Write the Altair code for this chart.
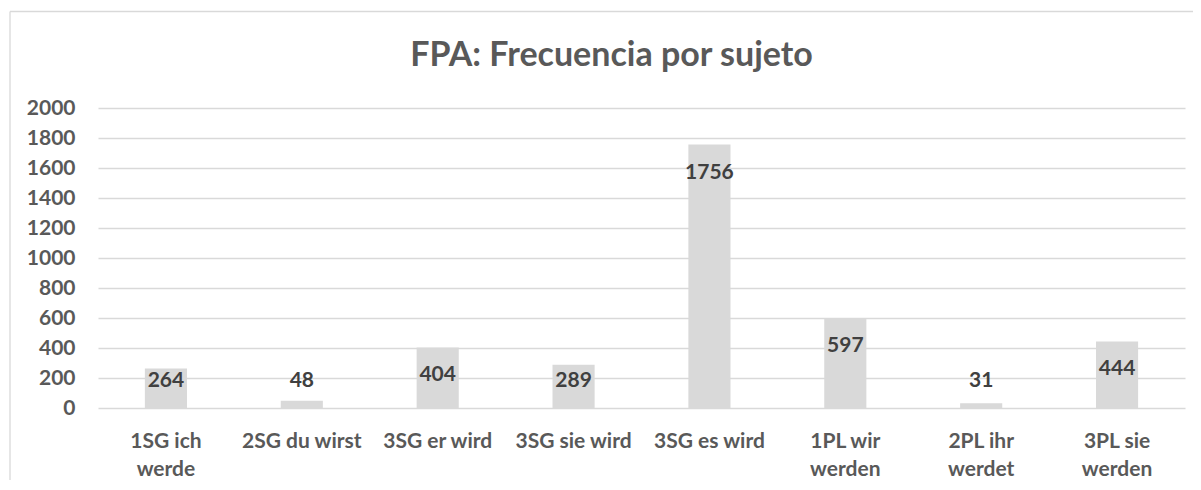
import altair as alt
import pandas as pd

categories = ["1SG ich werde", "2SG du wirst", "3SG er wird", "3SG sie wird",
              "3SG es wird", "1PL wir werden", "2PL ihr werdet", "3PL sie werden"]
values = [264, 48, 404, 289, 1756, 597, 31, 444]
y_ticks = [0, 200, 400, 600, 800, 1000, 1200, 1400, 1600, 1800, 2000]
title_text = "FPA: Frecuencia por sujeto"

df = pd.DataFrame({"category": categories, "value": values})

FONT = "Lato"
GRAY = "#595959"
LIGHT = "#d9d9d9"

x_axis = alt.Axis(
    labelAngle=0, labelFont=FONT, labelFontSize=21, labelFontWeight="bold",
    labelColor=GRAY, labelPadding=22, labelLineHeight=28, labelBaseline="top",
    domain=False, ticks=False, grid=False, labelOverlap=False,
    labelExpr="length(datum.label) > 12 ? [substring(datum.label, 0, lastindexof(datum.label, ' ')), substring(datum.label, lastindexof(datum.label, ' ') + 1)] : datum.label",
)
y_axis = alt.Axis(values=y_ticks, format="d", labelOverlap=False,
                  labelFont=FONT, labelFontSize=21,
                  labelFontWeight="bold", labelColor=GRAY, labelPadding=23,
                  domain=False, ticks=False, grid=True, gridColor=LIGHT,
                  gridWidth=1.3)

x_scale = alt.Scale(paddingInner=0.69, paddingOuter=0.345)
y_scale = alt.Scale(domain=[0, 2000], nice=False)

bars = alt.Chart(df).mark_bar(color=LIGHT).encode(
    x=alt.X("category:N", sort=categories, title=None, scale=x_scale, axis=x_axis),
    y=alt.Y("value:Q", scale=y_scale, title=None, axis=y_axis),
)

labels = alt.Chart(df).transform_calculate(
    label_y="max(datum.value, 370)"
).mark_text(font=FONT, fontSize=21, fontWeight="bold", color="#404040",
            baseline="middle", dy=28).encode(
    x=alt.X("category:N", sort=categories, title=None, scale=x_scale, axis=x_axis),
    y=alt.Y("label_y:Q", scale=y_scale, title=None, axis=y_axis),
    text=alt.Text("value:Q"),
)

single = alt.Data(values=[{"t": title_text}])
left_border = alt.Chart(single).mark_rule(color=LIGHT, strokeWidth=1.3).encode(
    x=alt.value(-88), y=alt.value(-96.5), y2=alt.value(500))
top_border = alt.Chart(single).mark_rule(color=LIGHT, strokeWidth=1.3).encode(
    x=alt.value(-88), x2=alt.value(1200), y=alt.value(-96.5))
title = alt.Chart(single).mark_text(
    font=FONT, fontSize=34, fontWeight="bold", color=GRAY,
    align="center", baseline="alphabetic").encode(
    x=alt.value(513.5), y=alt.value(-42), text="t:N")

chart = alt.layer(left_border, top_border, bars, labels, title).properties(
    width=1087, height=300,
    padding={"left": 90, "top": 100, "right": 8, "bottom": 72},
    autosize="none",
).configure_view(stroke=None)

chart.save("out.html", embed_options={"renderer": "svg", "actions": False})
